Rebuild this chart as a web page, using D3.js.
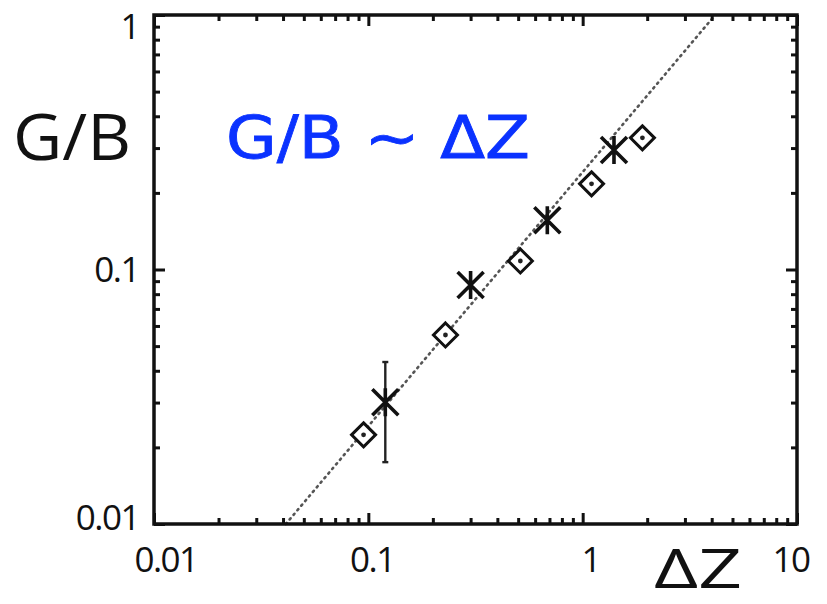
<!DOCTYPE html>
<html>
<head>
<meta charset="utf-8">
<script src="https://cdn.jsdelivr.net/npm/d3@7"></script>
<style>
  body { margin: 0; background: #fff; }
  text { font-family: "Open Sans", "Noto Sans", sans-serif; }
</style>
</head>
<body>
<svg id="chart" width="827" height="604"></svg>
<script>
// diamonds: G/B vs dZ
const diamondX = [0.095, 0.229, 0.512, 1.10, 1.90];
const diamondY = [0.0224, 0.0553, 0.108, 0.217, 0.329];

// asterisks, first one has an error bar
const starX = [0.120, 0.300, 0.684, 1.40];
const starY = [0.0301, 0.0869, 0.156, 0.295];
const starErrLo = [0.0175, null, null, null];
const starErrHi = [0.0433, null, null, null];

// dotted fit line G/B = 0.243 dZ
const fitX = [0.0412, 4.15];
const fitY = [0.01, 1.0];

const xTicks = [0.01, 0.1, 1, 10];
const xTickLabels = ['0.01', '0.1', '1', '10'];
const yTicks = [0.01, 0.1, 1];
const yTickLabels = ['0.01', '0.1', '1'];

const svg = d3.select('#chart');
const margin = { left: 154, right: 30, top: 15, bottom: 80 };
const W = 827, H = 604;

const x = d3.scaleLog().domain([0.01, 10]).range([margin.left, W - margin.right]);
const y = d3.scaleLog().domain([0.01, 1]).range([H - margin.bottom, margin.top]);

// minor tick values 2..9 in each decade
const minors = (dom) => {
  const out = [];
  for (let e = Math.log10(dom[0]); e < Math.log10(dom[1]); e++) {
    for (let k = 2; k <= 9; k++) out.push(k * Math.pow(10, e));
  }
  return out;
};

const g = svg.append('g');

// fit line
g.append('path')
  .datum(fitX.map((d, i) => [d, fitY[i]]))
  .attr('d', d3.line().x(d => x(d[0])).y(d => y(d[1])))
  .attr('fill', 'none')
  .attr('stroke', '#555')
  .attr('stroke-width', 2.6)
  .attr('stroke-dasharray', '1.4,4.6')
  .attr('stroke-linecap', 'round');

// axes: ticks point inward on all four sides
const tickStyle = sel => sel.selectAll('line').attr('stroke', '#111').attr('stroke-width', 3);

const addAxis = (axisFn, scale, transform) => {
  const major = axisFn(scale).tickValues(scale === x ? xTicks : yTicks).tickFormat('').tickSizeInner(-11).tickSizeOuter(0);
  const minor = axisFn(scale).tickValues(minors(scale.domain())).tickFormat('').tickSizeInner(-6).tickSizeOuter(0);
  [major, minor].forEach(a => {
    const ax = g.append('g').attr('transform', transform).call(a);
    ax.select('.domain').remove();
    tickStyle(ax);
  });
};
addAxis(d3.axisBottom, x, `translate(0,${y.range()[0]})`);
addAxis(d3.axisTop, x, `translate(0,${y.range()[1]})`);
addAxis(d3.axisLeft, y, `translate(${x.range()[0]},0)`);
addAxis(d3.axisRight, y, `translate(${x.range()[1]},0)`);

// frame
g.append('rect')
  .attr('x', x.range()[0]).attr('y', y.range()[1])
  .attr('width', x.range()[1] - x.range()[0])
  .attr('height', y.range()[0] - y.range()[1])
  .attr('fill', 'none').attr('stroke', '#111').attr('stroke-width', 3.5);

// tick labels
const xLabOff = [12, 4, 8, -6];
g.selectAll('.xlab').data(xTicks).join('text')
  .attr('x', (d, i) => x(d) + xLabOff[i])
  .attr('y', y.range()[0] + 48)
  .attr('text-anchor', 'middle')
  .attr('font-size', 35)
  .attr('fill', '#111')
  .attr('letter-spacing', -1.5)
  .text((d, i) => xTickLabels[i]);

const yLabOff = [6, 12, 24];
g.selectAll('.ylab').data(yTicks).join('text')
  .attr('x', x.range()[0] - 15)
  .attr('y', (d, i) => y(d) + yLabOff[i])
  .attr('text-anchor', 'end')
  .attr('font-size', 35)
  .attr('fill', '#111')
  .attr('letter-spacing', -1.5)
  .text((d, i) => yTickLabels[i]);

// axis titles
svg.append('text').attr('x', 13).attr('y', 160).attr('font-size', 64).attr('fill', '#111')
  .attr('textLength', 118).attr('lengthAdjust', 'spacingAndGlyphs').text('G/B');
svg.append('text').attr('x', 654).attr('y', 588).attr('font-size', 54).attr('fill', '#111')
  .attr('textLength', 88).attr('lengthAdjust', 'spacingAndGlyphs').text('ΔZ');

// annotation
svg.append('text')
  .attr('x', 226).attr('y', 158)
  .attr('font-size', 58)
  .attr('fill', '#0a32ff')
  .attr('stroke', '#0a32ff').attr('stroke-width', 0.8)
  .attr('textLength', 304)
  .attr('lengthAdjust', 'spacingAndGlyphs')
  .style('font-family', '"DejaVu Sans", sans-serif')
  .text('G/B ~ ΔZ');

// error bars
const errIdx = starX.map((d, i) => i).filter(i => starErrLo[i] !== null);
g.selectAll('.err').data(errIdx).join('g').each(function (i) {
  const s = d3.select(this);
  s.append('line')
    .attr('x1', x(starX[i])).attr('x2', x(starX[i]))
    .attr('y1', y(starErrLo[i])).attr('y2', y(starErrHi[i]))
    .attr('stroke', '#222').attr('stroke-width', 2.4);
  [starErrLo[i], starErrHi[i]].forEach(v => s.append('line')
    .attr('x1', x(starX[i]) - 3).attr('x2', x(starX[i]) + 3)
    .attr('y1', y(v)).attr('y2', y(v))
    .attr('stroke', '#222').attr('stroke-width', 2.4));
});

// diamonds
const diamonds = g.selectAll('.dia').data(diamondX).join('g')
  .attr('transform', (d, i) => `translate(${x(d)},${y(diamondY[i])})`);
diamonds.append('path')
  .attr('d', 'M0,-12L12,0L0,12L-12,0Z')
  .attr('fill', '#fff').attr('stroke', '#111').attr('stroke-width', 3);
diamonds.append('circle').attr('r', 2.4).attr('fill', '#222');

// asterisks
const stars = g.selectAll('.star').data(starX).join('g')
  .attr('transform', (d, i) => `translate(${x(d)},${y(starY[i])})`);
stars.append('path')
  .attr('d', 'M-13,-13L13,13M13,-13L-13,13M0,-14L0,14')
  .attr('fill', 'none').attr('stroke', '#111').attr('stroke-width', 3.6);
</script>
</body>
</html>
